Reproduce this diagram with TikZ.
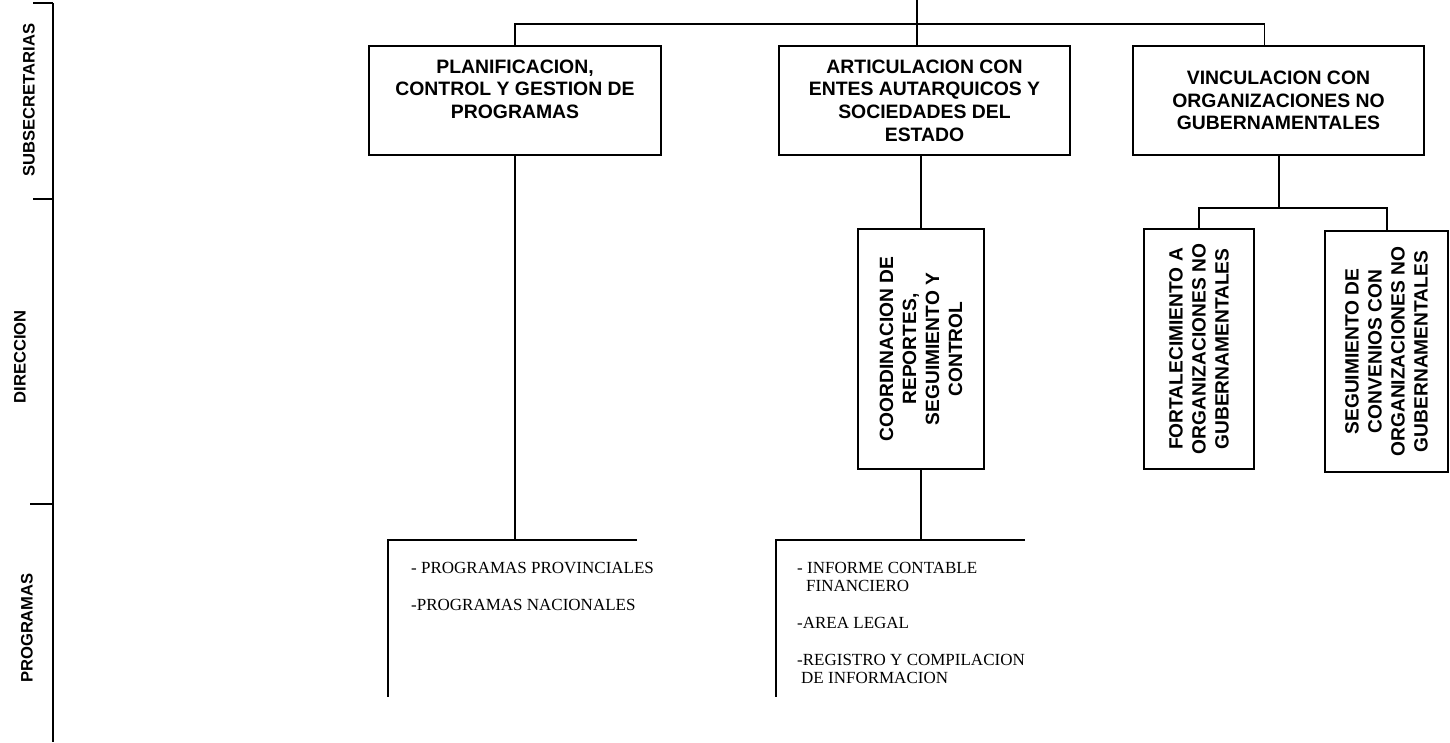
\documentclass[tikz,border=0pt]{standalone}
\usepackage{fontspec}
\setmainfont{Liberation Serif}
\setsansfont{Liberation Sans}
\usetikzlibrary{calc,positioning}

\begin{document}
\begin{tikzpicture}[
    x=1pt, y=-1pt,
    node distance=118pt,
    unit/.style={
        rectangle, draw=black, line width=2pt,
        minimum width=291pt, minimum height=109pt,
        align=center, inner sep=0pt, outer sep=0pt,
        font=\sffamily\bfseries\fontsize{19.4}{22.7}\selectfont
    },
    subunit/.style={
        rectangle, draw=black, line width=1.4pt, rotate=90,
        minimum width=240pt,
        align=center, inner sep=0pt, outer sep=0pt,
        font=\sffamily\bfseries\fontsize{19.2}{23}\selectfont
    },
    level/.style={
        rotate=90, inner sep=0pt,
        font=\sffamily\bfseries\fontsize{16.6}{18}\selectfont
    },
    items/.style={
        anchor=north west, align=left, inner sep=0pt,
        font=\rmfamily\fontsize{17}{18.4}\selectfont
    },
    link/.style={line width=1.3pt},
    axis/.style={line width=2pt}
]
\useasboundingbox (0,0) rectangle (1450,742);

% Levels
\node[level] (subsec) at (29,100) {SUBSECRETARIAS};
\node[level] (direc) at (20,357) {DIRECCION};
\node[level] (progr) at (27,628) {PROGRAMAS};
\draw[axis] (53,3) -- (53,742);
\draw[axis] (33,3) -- (53,3);
\draw[axis] (33,199) -- (53,199);
\draw[axis] (30,504) -- (53,504);

% Subsecretarias
\node[unit, minimum width=292pt] (planif) at (515,100.5) {PLANIFICACION,\\CONTROL Y GESTION DE\\PROGRAMAS\\\mbox{}};
\node[unit, right=of planif] (artic) {ARTICULACION CON\\ENTES AUTARQUICOS Y\\SOCIEDADES DEL\\ESTADO};
\node[unit, right=63pt of artic] (vincu) {VINCULACION CON\\ORGANIZACIONES NO\\GUBERNAMENTALES};

% Direcciones
\node[subunit, minimum height=126pt] (coord) at (921,349) {COORDINACION DE\\REPORTES,\\SEGUIMIENTO Y\\CONTROL};
\node[subunit, minimum height=110pt] (fort) at (1199,349) {FORTALECIMIENTO A\\ORGANIZACIONES NO\\GUBERNAMENTALES};
\node[subunit, minimum height=123pt, minimum width=241pt] (segui) at (1386.5,351.5) {SEGUIMIENTO DE\\CONVENIOS CON\\ORGANIZACIONES NO\\GUBERNAMENTALES};

% Programas
\node[items] (provlist) at (411,562) {- PROGRAMAS PROVINCIALES\\[18.4pt]-PROGRAMAS NACIONALES};
\node[items] (ctrllist) at (797,562) {- INFORME CONTABLE\\\hspace*{9pt}FINANCIERO\\[18.4pt]-AREA LEGAL\\[18.4pt]-REGISTRO Y COMPILACION\\\hspace*{4pt}DE INFORMACION};
\coordinate (provtop) at (388,540);
\coordinate (ctrltop) at (776,540);

% Connectors
\coordinate (root) at (917,0);
\coordinate (bar) at (917,24);
\draw[link] (root) -- (root |- artic.north);
\draw[link] (planif.north) |- (bar) -| ($(vincu.north)+(-14,0)$);
\draw[link] (coord.east) -- (coord.east |- artic.south);
\draw[link, line width=2pt] (vincu.south) -- ++(0,53) coordinate (split);
\draw[link, line width=2pt] (fort.east) |- (split) -| (segui.east);
\draw[link] (planif.south) -- (planif.south |- provtop);
\draw[link] (coord.west) -- (coord.west |- ctrltop);
\draw[link] ($(provtop)+(249,0)$) -- (provtop) -- ++(0,157);
\draw[link] ($(ctrltop)+(249,0)$) -- (ctrltop) -- ++(0,157);

\end{tikzpicture}
\end{document}
